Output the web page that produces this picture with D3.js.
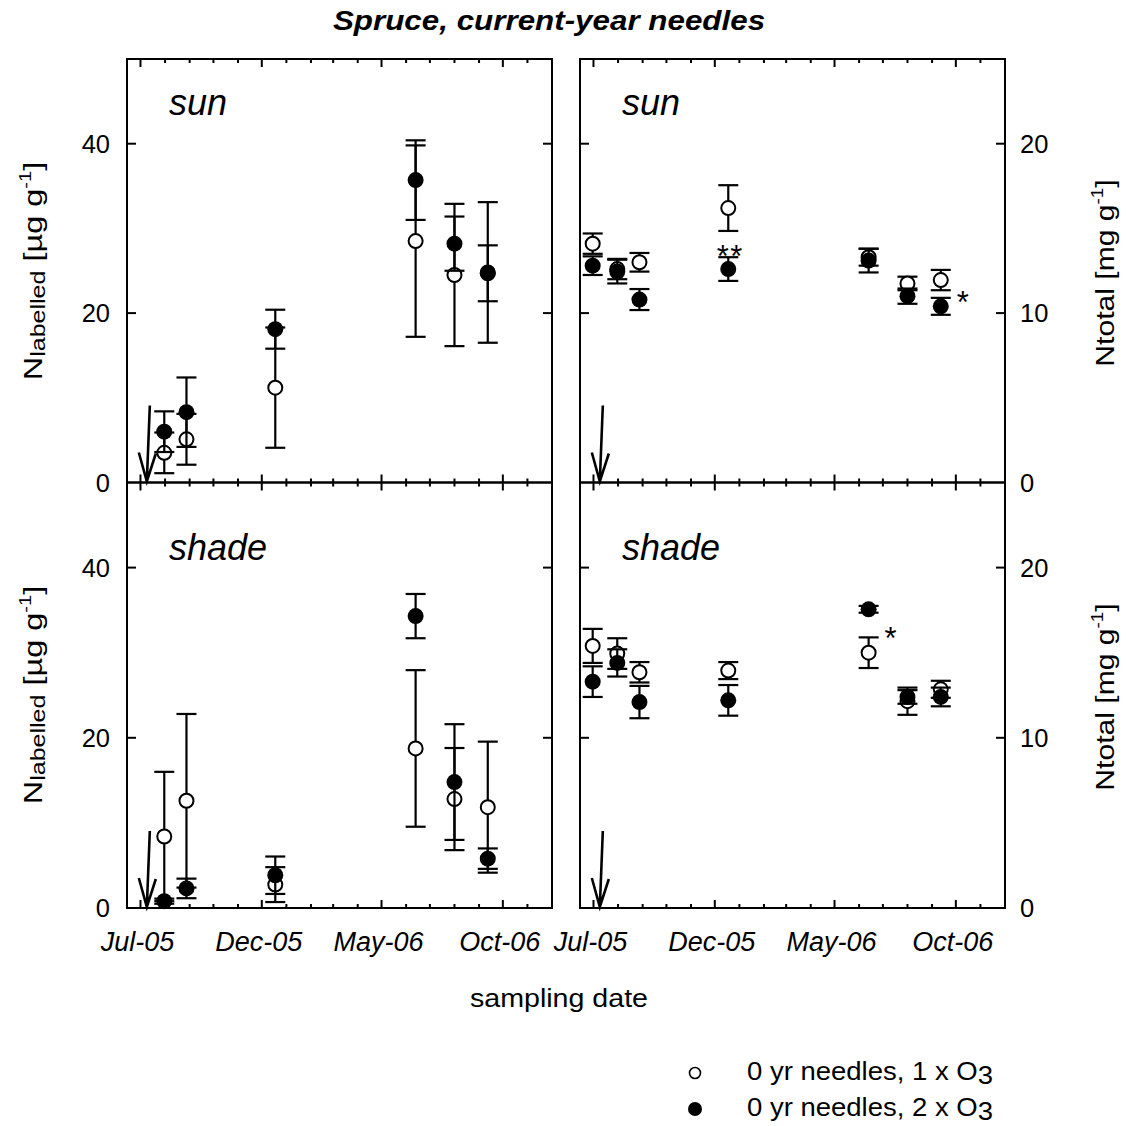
<!DOCTYPE html>
<html>
<head>
<meta charset="utf-8">
<script src="https://cdn.jsdelivr.net/npm/d3@7"></script>
<style>
  html, body { margin: 0; padding: 0; background: #fff; }
  svg { display: block; font-family: Arial, "Liberation Sans", Helvetica, sans-serif; }
</style>
</head>
<body>
<svg id="chart" width="1130" height="1126"></svg>
<script>
// ---- sampling dates (first date was only analysed for total N) ----
const sampleDates = ["2005-06-30", "2005-07-31", "2005-08-28", "2005-12-18", "2006-06-13", "2006-08-01", "2006-09-12"];
const labellingDate = "2005-07-09";
const dateDomain = ["2005-06-14", "2006-12-02"];
const majorTickDates = ["2005-07-01", "2005-12-01", "2006-05-01", "2006-10-01"];
const majorTickLabels = ["Jul-05", "Dec-05", "May-06", "Oct-06"];

const labelledTicks = [0, 20, 40];
const totalTicks = [0, 10, 20];

// ---- N labelled [µg g-1], sun crowns ----
const labSun1x = [null, 3.5, 5.1, 11.2, 28.5, 24.5, 24.8];
const labSun1xErr = [null, 2.4, 3.0, 7.1, 11.3, 8.4, 8.3];
const labSun2x = [null, 6.0, 8.3, 18.1, 35.7, 28.2, 24.7];
const labSun2xErr = [null, 2.4, 4.1, 2.3, 4.7, 3.2, 3.3];

// ---- N labelled [µg g-1], shade crowns ----
const labShade1x = [null, 8.4, 12.6, 2.75, 18.75, 12.8, 11.85];
const labShade1xErr = [null, 7.6, 10.2, 2.05, 9.2, 6.0, 7.7];
const labShade2x = [null, 0.8, 2.3, 3.85, 34.3, 14.8, 5.8];
const labShade2xErr = [null, 0.3, 1.15, 2.2, 2.6, 6.8, 1.2];

// ---- N total [mg g-1], sun crowns ----
const totSun1x = [14.1, 12.6, 13.0, 16.2, 13.3, 11.75, 11.95];
const totSun1xErr = [0.6, 0.6, 0.55, 1.35, 0.5, 0.4, 0.6];
const totSun2x = [12.8, 12.45, 10.8, 12.6, 13.1, 11.0, 10.4];
const totSun2xErr = [0.55, 0.7, 0.62, 0.7, 0.7, 0.45, 0.5];

// ---- N total [mg g-1], shade crowns ----
const totShade1x = [15.4, 14.95, 13.85, 13.95, 15.0, 12.15, 12.85];
const totShade1xErr = [1.0, 0.9, 0.6, 0.5, 0.9, 0.8, 0.5];
const totShade2x = [13.3, 14.4, 12.1, 12.2, 17.55, 12.4, 12.4];
const totShade2xErr = [0.9, 0.8, 0.95, 0.9, 0.2, 0.4, 0.55];

// ---- significance marks: [date, value, text] ----
const sunTotalMarks = [["2005-12-18", 13.8, "**"], ["2006-09-12", 11.05, "*"]];
const shadeTotalMarks = [["2006-06-13", 16.3, "*"]];

const legendLabels = ["0 yr needles, 1 x O", "0 yr needles, 2 x O"];

// ------------------------------------------------------------------
const parse = d3.utcParse("%Y-%m-%d");
const svg = d3.select("#chart");

const colX = [127, 580];
const panelW = 425;
const rows = [[59, 482.5], [482.5, 908]];

const panels = [
  { col: 0, row: 0, label: "sun",   labelDy: 56, max: 50, ticks: labelledTicks, marks: [],
    s1: [labSun1x, labSun1xErr], s2: [labSun2x, labSun2xErr] },
  { col: 1, row: 0, label: "sun",   labelDy: 56, max: 25, ticks: totalTicks, marks: sunTotalMarks,
    s1: [totSun1x, totSun1xErr], s2: [totSun2x, totSun2xErr] },
  { col: 0, row: 1, label: "shade", labelDy: 77, max: 50, ticks: labelledTicks, marks: [],
    s1: [labShade1x, labShade1xErr], s2: [labShade2x, labShade2xErr] },
  { col: 1, row: 1, label: "shade", labelDy: 77, max: 25, ticks: totalTicks, marks: shadeTotalMarks,
    s1: [totShade1x, totShade1xErr], s2: [totShade2x, totShade2xErr] }
];

const months = d3.utcMonth.range(parse("2005-07-01"), parse(dateDomain[1]));
const majors = majorTickDates.map(parse);
const isMajor = d => majors.some(m => +m === +d);

panels.forEach(p => {
  const x0 = colX[p.col], x1 = x0 + panelW;
  const [y0, y1] = rows[p.row];
  const x = d3.scaleUtc().domain(dateDomain.map(parse)).range([x0, x1]);
  const y = d3.scaleLinear().domain([0, p.max]).range([y1, y0]);
  const g = svg.append("g");

  // month ticks, inward on top and bottom edges
  const mt = months.filter(d => x(d) > x0 + 3 && x(d) < x1 - 3);
  [[y1, -1], [y0, 1]].forEach(([yy, dir]) => {
    g.selectAll(null).data(mt).join("line")
      .attr("x1", d => x(d)).attr("x2", d => x(d))
      .attr("y1", yy).attr("y2", d => yy + dir * (isMajor(d) ? 8 : 4))
      .attr("stroke", "#000").attr("stroke-width", 2);
  });
  // value ticks, inward on left and right edges
  const vt = p.ticks.filter(v => v > 0 && v < p.max);
  [[x0, 1], [x1, -1]].forEach(([xx, dir]) => {
    g.selectAll(null).data(vt).join("line")
      .attr("x1", xx).attr("x2", xx + dir * 9)
      .attr("y1", d => y(d)).attr("y2", d => y(d))
      .attr("stroke", "#000").attr("stroke-width", 2);
  });

  // value tick labels (left column left, right column right)
  g.selectAll(null).data(p.ticks).join("text")
    .attr("x", p.col === 0 ? x0 - 17 : x1 + 15)
    .attr("y", d => y(d) + 9)
    .attr("text-anchor", p.col === 0 ? "end" : "start")
    .attr("font-size", 25.5)
    .text(d => d);

  // labelling date arrow
  const ax = x(parse(labellingDate)), ay = y(0);
  g.append("path")
    .attr("d", `M${ax + 3},${ay - 77}L${ax},${ay - 1}M${ax - 8},${ay - 30}L${ax},${ay - 1}L${ax + 9},${ay - 29}`)
    .attr("fill", "none").attr("stroke", "#000").attr("stroke-width", 2.6)
    .attr("stroke-linejoin", "miter");

  // panel label
  g.append("text")
    .attr("x", x0 + 42).attr("y", y0 + p.labelDy)
    .attr("font-size", 36).attr("font-style", "italic")
    .text(p.label);

  // series: 1 x O3 (open) drawn first, 2 x O3 (filled) on top
  [[p.s1, false], [p.s2, true]].forEach(([[vals, errs], filled]) => {
    const data = sampleDates.map((d, i) => ({ date: parse(d), v: vals[i], e: errs[i] }))
      .filter(d => d.v != null);
    const s = g.append("g");
    s.selectAll(null).data(data).join("line")
      .attr("x1", d => x(d.date)).attr("x2", d => x(d.date))
      .attr("y1", d => y(d.v - d.e)).attr("y2", d => y(d.v + d.e))
      .attr("stroke", "#000").attr("stroke-width", 2.2);
    ["lo", "hi"].forEach(k => {
      s.selectAll(null).data(data).join("line")
        .attr("x1", d => x(d.date) - 10).attr("x2", d => x(d.date) + 10)
        .attr("y1", d => y(k === "lo" ? d.v - d.e : d.v + d.e))
        .attr("y2", d => y(k === "lo" ? d.v - d.e : d.v + d.e))
        .attr("stroke", "#000").attr("stroke-width", 2.2);
    });
    s.selectAll(null).data(data).join("circle")
      .attr("cx", d => x(d.date)).attr("cy", d => y(d.v))
      .attr("r", filled ? 8 : 7)
      .attr("fill", filled ? "#000" : "#fff")
      .attr("stroke", filled ? "none" : "#000")
      .attr("stroke-width", 2);
  });

  // significance marks
  g.selectAll(null).data(p.marks).join("text")
    .attr("x", d => x(parse(d[0])) + (d[2] === "**" ? 2 : 22))
    .attr("y", d => y(d[1]) + 18)
    .attr("text-anchor", "middle")
    .attr("font-size", 31)
    .attr("letter-spacing", d => d[2] === "**" ? 1.5 : 0)
    .text(d => d[2]);

  // frame
  g.append("rect")
    .attr("x", x0).attr("y", y0).attr("width", panelW).attr("height", y1 - y0)
    .attr("fill", "none").attr("stroke", "#000").attr("stroke-width", 2);

  // date labels under bottom row
  if (p.row === 1) {
    g.selectAll(null).data(majors).join("text")
      .attr("transform", d => `translate(${x(d) - 3},951)`)
      .attr("text-anchor", "middle")
      .attr("font-size", 27).attr("font-style", "italic")
      .text((d, i) => majorTickLabels[i]);
  }
});

// ---- axis titles ----
function leftTitle(cy) {
  const t = svg.append("text")
    .attr("transform", `translate(42,${cy}) rotate(-90) scale(1.25,1)`)
    .attr("text-anchor", "middle").attr("font-size", 26);
  t.append("tspan").text("N");
  t.append("tspan").attr("font-size", 20).attr("dy", 3).text("labelled");
  t.append("tspan").attr("dy", -3).text(" [µg g");
  t.append("tspan").attr("font-size", 16).attr("dy", -11).text("-1");
  t.append("tspan").attr("dy", 11).text("]");
}
function rightTitle(cy) {
  const t = svg.append("text")
    .attr("transform", `translate(1114,${cy}) rotate(-90) scale(1.18,1)`)
    .attr("text-anchor", "middle").attr("font-size", 25.5);
  t.append("tspan").text("Ntotal [mg g");
  t.append("tspan").attr("font-size", 16).attr("dy", -11).text("-1");
  t.append("tspan").attr("dy", 11).text("]");
}
leftTitle(271); leftTitle(695);
rightTitle(273); rightTitle(697);

// ---- chart title and x title ----
svg.append("text")
  .attr("transform", "translate(549,30) scale(1.12,1)")
  .attr("text-anchor", "middle").attr("font-size", 28)
  .attr("font-weight", "bold").attr("font-style", "italic")
  .text("Spruce, current-year needles");

svg.append("text")
  .attr("transform", "translate(559,1007) scale(1.1,1)")
  .attr("text-anchor", "middle").attr("font-size", 26)
  .text("sampling date");

// ---- legend ----
const lg = svg.append("g");
legendLabels.forEach((lab, i) => {
  const cy = 1073 + i * 36;
  lg.append("circle")
    .attr("cx", 695).attr("cy", cy)
    .attr("r", i === 0 ? 5.5 : 7)
    .attr("fill", i === 0 ? "#fff" : "#000")
    .attr("stroke", i === 0 ? "#000" : "none").attr("stroke-width", 1.6);
  const t = lg.append("text")
    .attr("transform", `translate(747,${cy + 7}) scale(1.1,1)`)
    .attr("font-size", 25);
  t.append("tspan").text(lab);
  t.append("tspan").attr("dy", 4).text("3");
});
</script>
</body>
</html>
